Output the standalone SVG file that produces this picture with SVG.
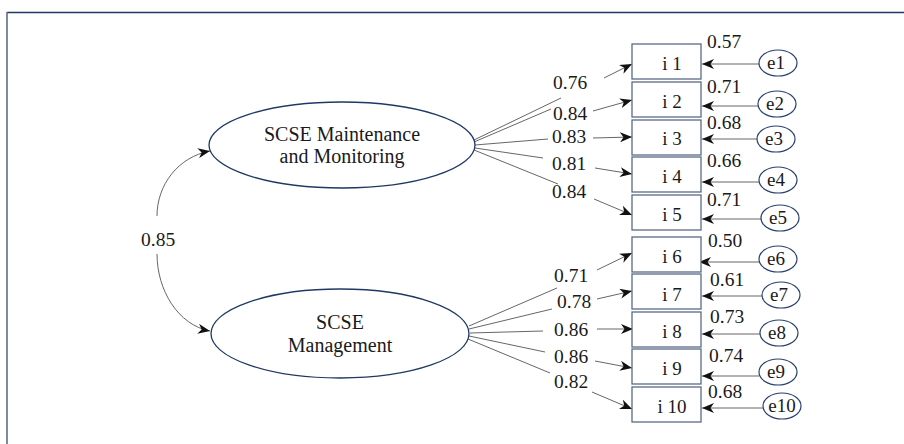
<svg xmlns="http://www.w3.org/2000/svg" width="904" height="444" viewBox="0 0 904 444" font-family="Liberation Serif, DejaVu Serif, serif">
<style>
text{font-family:'Liberation Serif','DejaVu Serif',serif;fill:#1a1a1a}
.lat{fill:#fff;stroke:#1f3864;stroke-width:1.3}
.box{fill:#fff;stroke:#5a6a88;stroke-width:1.3}
.err{fill:#fff;stroke:#2a4070;stroke-width:1.2}
.ln{stroke:#555;stroke-width:0.9;fill:none}
.ar{stroke:#555;stroke-width:0.9;fill:none;marker-end:url(#ah)}
.lt{font-size:20px;text-anchor:middle}
.bt{font-size:19px;text-anchor:middle}
.et{font-size:19px;text-anchor:middle}
.num{font-size:19.5px}
</style>
<defs>
<marker id="ah" viewBox="0 0 12 10" refX="12" refY="5" markerWidth="12" markerHeight="10" markerUnits="userSpaceOnUse" orient="auto-start-reverse">
<path d="M0,0 L12,5 L0,10 L3.5,5 z" fill="#111"/>
</marker>
</defs>
<rect width="904" height="444" fill="#fff"/>
<line x1="7" y1="12.5" x2="904" y2="12.5" stroke="#1f3864" stroke-width="1.3"/>
<line x1="7" y1="12" x2="7" y2="444" stroke="#5b6d8c" stroke-width="1.6"/>

<g id="connectors">
<path class="ln" d="M157,216 C157,185 178,157 210,151" marker-end="url(#ah)"/>
<path class="ln" d="M157,254 C157,290 178,325 210,331" marker-end="url(#ah)"/>
<line class="ln" x1="474" y1="140" x2="561" y2="98"/>
<line class="ar" x1="604" y1="78" x2="632" y2="64"/>
<line class="ln" x1="474" y1="142" x2="551" y2="109"/>
<line class="ar" x1="593" y1="111" x2="632" y2="100"/>
<line class="ln" x1="475" y1="145" x2="548" y2="139"/>
<line class="ar" x1="593" y1="138" x2="632" y2="137"/>
<line class="ln" x1="475" y1="148" x2="543" y2="158"/>
<line class="ar" x1="595" y1="168" x2="632" y2="174"/>
<line class="ln" x1="474" y1="150" x2="558" y2="184"/>
<line class="ar" x1="594" y1="199" x2="632" y2="215"/>
<line class="ln" x1="469" y1="326" x2="557" y2="288"/>
<line class="ar" x1="597" y1="270" x2="632" y2="253"/>
<line class="ln" x1="469" y1="329" x2="552" y2="309"/>
<line class="ar" x1="597" y1="299" x2="632" y2="291"/>
<line class="ln" x1="470" y1="333" x2="543" y2="331"/>
<line class="ar" x1="597" y1="329" x2="633" y2="329"/>
<line class="ln" x1="469" y1="336" x2="545" y2="352"/>
<line class="ar" x1="595" y1="361" x2="632" y2="368"/>
<line class="ln" x1="468" y1="339" x2="550" y2="373"/>
<line class="ar" x1="592" y1="392" x2="632" y2="409"/>
<line class="ar" x1="759" y1="64" x2="702" y2="64"/>
<line class="ar" x1="758" y1="106" x2="702" y2="106"/>
<line class="ar" x1="757" y1="139" x2="702" y2="139"/>
<line class="ar" x1="759" y1="182" x2="702" y2="182"/>
<line class="ar" x1="761" y1="219" x2="702" y2="219"/>
<line class="ar" x1="759" y1="262" x2="699" y2="262"/>
<line class="ar" x1="762" y1="296" x2="702" y2="296"/>
<line class="ar" x1="760" y1="334" x2="702" y2="334"/>
<line class="ar" x1="759" y1="376" x2="702" y2="376"/>
<line class="ar" x1="763" y1="408" x2="702" y2="408"/>
</g>

<g id="labels">
<text class="num" x="141" y="246">0.85</text>
<text class="num" x="553" y="89">0.76</text>
<text class="num" x="553" y="120">0.84</text>
<text class="num" x="552" y="143">0.83</text>
<text class="num" x="552" y="170">0.81</text>
<text class="num" x="552" y="198">0.84</text>
<text class="num" x="554" y="282">0.71</text>
<text class="num" x="557" y="308">0.78</text>
<text class="num" x="554" y="336">0.86</text>
<text class="num" x="554" y="363">0.86</text>
<text class="num" x="554" y="388">0.82</text>
<text class="num" x="707" y="48">0.57</text>
<text class="num" x="707" y="93">0.71</text>
<text class="num" x="707" y="129">0.68</text>
<text class="num" x="707" y="167">0.66</text>
<text class="num" x="707" y="206">0.71</text>
<text class="num" x="708" y="247">0.50</text>
<text class="num" x="710" y="286">0.61</text>
<text class="num" x="710" y="323">0.73</text>
<text class="num" x="709" y="362">0.74</text>
<text class="num" x="708" y="398">0.68</text>
</g>

<g id="F1"><ellipse class="lat" cx="342" cy="145" rx="133" ry="43"/><text class="lt" x="342" y="141">SCSE Maintenance</text><text class="lt" x="342" y="163">and Monitoring</text></g>
<g id="F2"><ellipse class="lat" cx="340" cy="333.5" rx="129" ry="44.5"/><text class="lt" x="340" y="329">SCSE</text><text class="lt" x="340" y="352">Management</text></g>

<g id="i1"><rect class="box" x="632" y="44" width="69" height="35"/><text class="bt" x="672" y="70">i 1</text></g>
<g id="i2"><rect class="box" x="632" y="82" width="69" height="35"/><text class="bt" x="672" y="108">i 2</text></g>
<g id="i3"><rect class="box" x="632" y="120" width="69" height="35"/><text class="bt" x="672" y="145">i 3</text></g>
<g id="i4"><rect class="box" x="632" y="157" width="69" height="35"/><text class="bt" x="672" y="183">i 4</text></g>
<g id="i5"><rect class="box" x="632" y="195" width="69" height="35"/><text class="bt" x="672" y="221">i 5</text></g>
<g id="i6"><rect class="box" x="632" y="237" width="69" height="35"/><text class="bt" x="672" y="263">i 6</text></g>
<g id="i7"><rect class="box" x="632" y="274" width="69" height="35"/><text class="bt" x="672" y="301">i 7</text></g>
<g id="i8"><rect class="box" x="632" y="312" width="69" height="35"/><text class="bt" x="672" y="338">i 8</text></g>
<g id="i9"><rect class="box" x="632" y="349" width="69" height="35"/><text class="bt" x="672" y="375">i 9</text></g>
<g id="i10"><rect class="box" x="632" y="387" width="69" height="35"/><text class="bt" x="672" y="413">i 10</text></g>

<g id="e1"><ellipse class="err" cx="778" cy="63" rx="19" ry="13"/><text class="et" x="776" y="69">e1</text></g>
<g id="e2"><ellipse class="err" cx="777" cy="104" rx="19" ry="13"/><text class="et" x="775" y="110">e2</text></g>
<g id="e3"><ellipse class="err" cx="776" cy="139" rx="19" ry="13"/><text class="et" x="774" y="145">e3</text></g>
<g id="e4"><ellipse class="err" cx="778" cy="180" rx="19" ry="13"/><text class="et" x="776" y="186">e4</text></g>
<g id="e5"><ellipse class="err" cx="780" cy="218" rx="19" ry="13"/><text class="et" x="778" y="224">e5</text></g>
<g id="e6"><ellipse class="err" cx="778" cy="259" rx="19" ry="13"/><text class="et" x="776" y="265">e6</text></g>
<g id="e7"><ellipse class="err" cx="781" cy="295" rx="19" ry="13"/><text class="et" x="779" y="301">e7</text></g>
<g id="e8"><ellipse class="err" cx="779" cy="333" rx="19" ry="13"/><text class="et" x="777" y="339">e8</text></g>
<g id="e9"><ellipse class="err" cx="778" cy="372" rx="19" ry="13"/><text class="et" x="776" y="378">e9</text></g>
<g id="e10"><ellipse class="err" cx="782" cy="406" rx="19" ry="13"/><text class="et" x="782" y="412">e10</text></g>
</svg>
